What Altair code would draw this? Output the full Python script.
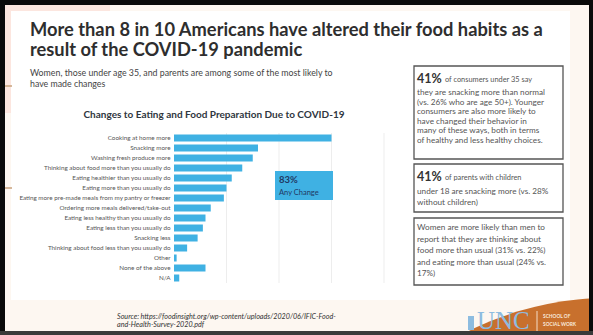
import altair as alt
import pandas as pd

# ---------------- data ----------------
categories = [
    "Cooking at home more",
    "Snacking more",
    "Washing fresh produce more",
    "Thinking about food more than you usually do",
    "Eating healthier than you usually do",
    "Eating more than you usually do",
    "Eating more pre-made meals from my pantry or freezer",
    "Ordering more meals delivered/take-out",
    "Eating less healthy than you usually do",
    "Eating less than you usually do",
    "Snacking less",
    "Thinking about food less than you usually do",
    "Other",
    "None of the above",
    "N/A",
]
values = [60, 32, 30, 26, 22, 20, 19, 14, 12, 11, 9, 5, 1, 12, 2]
tick_values = [0, 20, 40, 60, 80]
grid_values = [20, 40, 60, 80]

title_lines = [
    "More than 8 in 10 Americans have altered their food habits as a",
    "result of the COVID-19 pandemic",
]
subtitle_lines = [
    "Women, those under age 35, and parents are among some of the most likely to",
    "have made changes",
]
chart_title = "Changes to Eating and Food Preparation Due to COVID-19"
callout_pct = "83%"
callout_label = "Any Change"

box1_pct = "41%"
box1_first = "of consumers under 35 say"
box1_lines = [
    "they are snacking more than normal",
    "(vs. 26% who are age 50+). Younger",
    "consumers are also more likely to",
    "have changed their behavior in",
    "many of these ways, both in terms",
    "of healthy and less healthy choices.",
]
box2_pct = "41%"
box2_first = "of parents with children"
box2_lines = [
    "under 18 are snacking more (vs. 28%",
    "without children)",
]
box3_lines = [
    "Women are more likely than men to",
    "report that they are thinking about",
    "food more than usual (31% vs. 22%)",
    "and eating more than usual (24% vs.",
    "17%)",
]
source_lines = [
    "Source: https://foodinsight.org/wp-content/uploads/2020/06/IFIC-Food-",
    "and-Health-Survey-2020.pdf",
]

# ---------------- layout helpers ----------------
OX, OY = 174, 133      # plot origin on the slide
W, H = 210, 150        # plot area
FONT = "Lato"
BLUE = "#3FB1E3"
one = pd.DataFrame({"k": [0]})


def px(x):
    return x - OX


def py(y):
    return y - OY


def rect(x1, y1, x2, y2, fill, stroke=None, sw=0):
    kw = dict(fill=fill)
    if stroke:
        kw.update(stroke=stroke, strokeWidth=sw)
    return alt.Chart(one).mark_rect(**kw).encode(
        x=alt.value(px(x1)), x2=alt.value(px(x2)),
        y=alt.value(py(y1)), y2=alt.value(py(y2)))


def rule(x1, y1, x2, y2, color, sw=1):
    return alt.Chart(one).mark_rule(color=color, strokeWidth=sw).encode(
        x=alt.value(px(x1)), x2=alt.value(px(x2)),
        y=alt.value(py(y1)), y2=alt.value(py(y2)))


def text(x, y, s, size, color="#333333", weight="normal", style="normal",
         align="left", font=FONT):
    return alt.Chart(one).mark_text(
        fontSize=size, color=color, fontWeight=weight, fontStyle=style,
        align=align, baseline="middle", font=font).encode(
        x=alt.value(px(x)), y=alt.value(py(y)), text=alt.value(s))


def lines(x, y0, dy, arr, size, **kw):
    return [text(x, y0 + i * dy, s, size, **kw) for i, s in enumerate(arr)]


layers = []
# slide background pieces
layers.append(rect(11, 11, 570, 300, "#FFFFFF"))
layers.append(rect(5, 5, 110, 11, "#FCE6DF"))
layers.append(rect(5, 5, 11, 113, "#FCE6DF"))
layers.append(rule(5, 86, 12, 86, "#C9A27C", 1.5))
layers.append(rule(5, 188, 12, 188, "#C9A27C", 1.5))
# orange logo swoosh (big circle)
layers.append(alt.Chart(one).mark_arc(
    radius=310, theta=0, theta2=6.2832, color="#C8702D").encode(
    x=alt.value(px(608)), y=alt.value(py(608))))
layers.append(text(477, 321, "UNC", 25, color="#8DBCE0", font="Liberation Serif"))
layers.append(rect(468, 316, 474, 330, "#8DBCE0"))
layers.append(rule(537, 311, 537, 331, "#F3DCC8", 1))
layers.append(text(543, 317, "SCHOOL OF", 4.8, color="#F8E9DC", weight="bold"))
layers.append(text(543, 325, "SOCIAL WORK", 4.8, color="#F8E9DC", weight="bold"))
# frame
layers.append(rect(0, 0, 593, 5, "#0A0A0A"))
layers.append(rect(0, 0, 5, 335, "#0A0A0A"))
layers.append(rect(589, 0, 593, 335, "#0A0A0A"))
layers.append(rect(0, 331, 593, 335, "#3A3A3A"))

# titles
layers += lines(30, 31, 20, title_lines, 18.3, color="#2E2E2E", weight="bold")
layers += lines(30, 73, 10.5, subtitle_lines, 8.8, color="#444444")
layers.append(text(214, 115, chart_title, 10, color="#2F3640", weight="bold", align="center"))

# grid
grid_df = pd.DataFrame({"t": grid_values})
layers.append(alt.Chart(grid_df).mark_rule(color="#E9E9E9", strokeWidth=0.8).encode(
    x=alt.X("t:Q", axis=None), y=alt.value(0), y2=alt.value(H)))

# bars
df = pd.DataFrame({"category": categories, "value": values})
bars = alt.Chart(df).mark_bar(color=BLUE).encode(
    x=alt.X("value:Q", scale=alt.Scale(domain=[0, 80]),
            axis=alt.Axis(values=tick_values, labelExpr="datum.value + '%'",
                          grid=False, ticks=False, domain=False, labelFontSize=5.5,
                          labelColor="#9A9A9A", labelPadding=6, title=None,
                          zindex=1, labelFont=FONT)),
    y=alt.Y("category:N", sort=categories,
            scale=alt.Scale(paddingInner=0.3, paddingOuter=0.15),
            axis=alt.Axis(ticks=False, domain=False, labelFontSize=6.3,
                          labelColor="#555555", labelPadding=4, title=None,
                          zindex=1, labelFont=FONT, labelLimit=300)),
)
layers.append(bars)

# callout
layers.append(rect(275, 171, 333, 200, BLUE))
layers.append(text(279, 180, callout_pct, 9.5, color="#1F3864", weight="bold"))
layers.append(text(279, 193, callout_label, 7.5, color="#1F3864"))

# right boxes
layers.append(rect(414, 66, 563, 159, "#FFFFFF", stroke="#555555", sw=1.3))
layers.append(text(417, 79, box1_pct, 12.5, color="#333333", weight="bold"))
layers.append(text(445, 80, box1_first, 7.4, color="#555555"))
layers += lines(417, 93, 9.6, box1_lines, 8.2, color="#555555")

layers.append(rect(414, 164, 563, 212, "#FFFFFF", stroke="#555555", sw=1.3))
layers.append(text(417, 177, box2_pct, 12.5, color="#333333", weight="bold"))
layers.append(text(445, 178, box2_first, 7.4, color="#555555"))
layers += lines(417, 192, 10.5, box2_lines, 8.2, color="#555555")

layers.append(rect(414, 218, 563, 285, "#FFFFFF", stroke="#555555", sw=1.3))
layers += lines(417, 228, 11.5, box3_lines, 8.2, color="#555555")

# source
layers += lines(117, 316.5, 8, source_lines, 7.2, color="#333333", style="italic")

chart = alt.layer(*layers).properties(
    width=W, height=H,
    padding={"left": OX, "top": OY, "right": 593 - OX - W, "bottom": 335 - OY - H},
    autosize=alt.AutoSizeParams(type="none"),
    background="#FDF7F1",
).configure_view(stroke=None)

chart.save("out.html", embed_options={"renderer": "svg", "actions": False})
